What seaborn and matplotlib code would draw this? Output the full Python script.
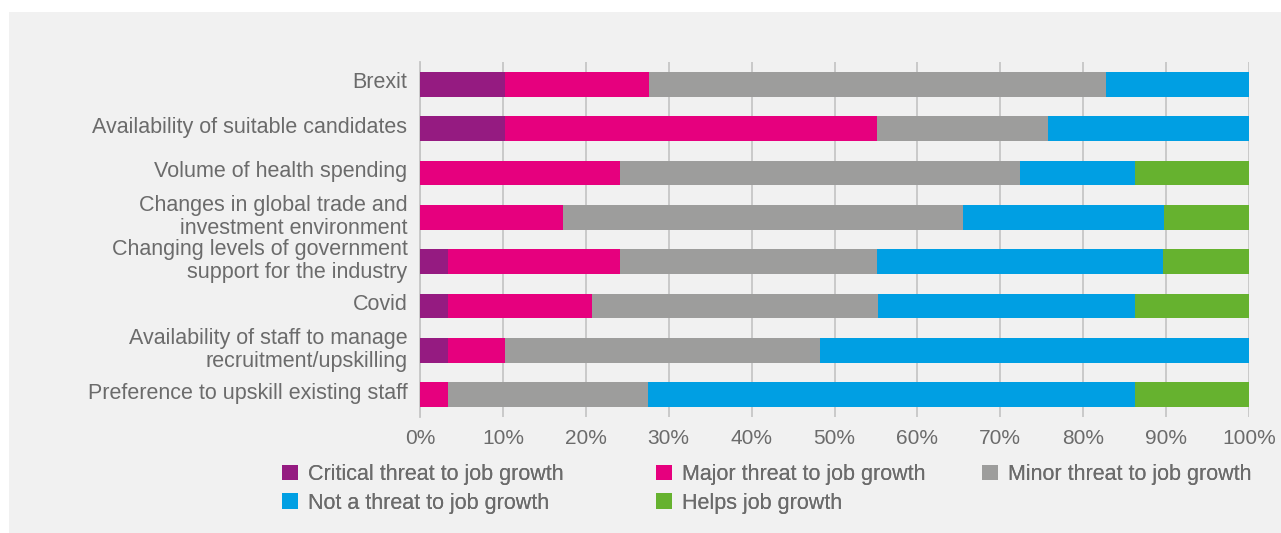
import matplotlib
matplotlib.use("Agg")
import matplotlib.pyplot as plt
import matplotlib.transforms as mtransforms
from matplotlib.patches import Patch, Rectangle
import numpy as np
import pandas as pd
import seaborn as sns

# Survey items (top to bottom)
items = [
    "Brexit",
    "Availability of suitable candidates",
    "Volume of health spending",
    "Changes in global trade and\ninvestment environment",
    "Changing levels of government\nsupport for the industry",
    "Covid",
    "Availability of staff to manage\nrecruitment/upskilling",
    "Preference to upskill existing staff",
]

# Share of respondents (%) per answer
critical = [10.3, 10.3, 0.0, 0.0, 3.4, 3.4, 3.4, 0.0]
major = [17.3, 44.8, 24.1, 17.2, 20.7, 17.3, 6.9, 3.4]
minor = [55.2, 20.7, 48.3, 48.3, 31.0, 34.5, 37.9, 24.1]
not_threat = [17.2, 24.2, 13.8, 24.2, 34.5, 31.0, 51.8, 58.7]
helps = [0.0, 0.0, 13.8, 10.3, 10.4, 13.8, 0.0, 13.8]

answers = [
    "Critical threat to job growth",
    "Major threat to job growth",
    "Minor threat to job growth",
    "Not a threat to job growth",
    "Helps job growth",
]
colors = ["#951B81", "#E6007E", "#9D9D9C", "#009FE3", "#66B22F"]
tick_values = [0, 10, 20, 30, 40, 50, 60, 70, 80, 90, 100]
tick_labels = [f"{v}%" for v in tick_values]

bg = "#F1F1F1"
text_col = "#6B6B6B"
grid_col = "#C6C6C6"

# Long table with cumulative right edges so each layer sits on the previous ones
shares = np.array([critical, major, minor, not_threat, helps])
cum = shares.cumsum(axis=0)
rows = []
for a_i, ans in enumerate(answers):
    for i_i, item in enumerate(items):
        rows.append({"item": item, "answer": ans, "share": shares[a_i, i_i], "edge": cum[a_i, i_i]})
df = pd.DataFrame(rows)

sns.set_theme(style="white")
plt.rcParams["font.family"] = ["Liberation Sans", "DejaVu Sans"]

W, H = 1281, 533
fig = plt.figure(figsize=(W / 100, H / 100), dpi=100)
fig.patch.set_facecolor("white")
# grey panel behind the whole chart
panel = Rectangle((9 / W, 0), 1 - 9 / W, 1 - 12 / H, transform=fig.transFigure,
                  facecolor=bg, edgecolor="none", zorder=-10)
fig.add_artist(panel)

ax = fig.add_axes([420 / W, 1 - 417 / H, (1249 - 420) / W, (417 - 62) / H])
ax.set_zorder(1)
ax.set_facecolor(bg)

# Draw widest layer first, narrower layers on top
sns.barplot(data=df, x="edge", y="item", hue="answer",
            hue_order=answers[::-1], palette=dict(zip(answers, colors)),
            order=items, dodge=False, width=0.56, orient="h",
            linewidth=0, saturation=1, legend=False, ax=ax, zorder=3)

ax.set_xlim(0, 100)
ax.set_ylim(7.5, -0.5)
ax.set_xticks(tick_values)
ax.set_xticklabels(tick_labels)
ax.set_xlabel("")
ax.set_ylabel("")
ax.xaxis.grid(True, color=grid_col, linewidth=1.3, zorder=0)
ax.set_axisbelow(True)
for s in ["top", "right", "bottom"]:
    ax.spines[s].set_visible(False)
ax.spines["left"].set_color(grid_col)
ax.spines["left"].set_linewidth(1.3)
ax.tick_params(axis="x", length=0, labelsize=15, labelcolor=text_col, pad=9)
ax.tick_params(axis="y", length=0, labelsize=15.5, labelcolor=text_col, pad=9)
lift = mtransforms.ScaledTranslation(0, 4 / 100, fig.dpi_scale_trans)
for lab in ax.get_yticklabels():
    lab.set_linespacing(1.12)
    lab.set_transform(lab.get_transform() + lift)

# Legend laid out as three columns
handles = [Patch(facecolor=c, edgecolor="none") for c in colors]
columns = [([0, 3], 282), ([1, 4], 656), ([2], 982)]
for idx, x0 in columns:
    leg = fig.legend([handles[i] for i in idx], [answers[i] for i in idx],
                     loc="upper left", bbox_to_anchor=(x0 / W, 1 - 464 / H),
                     frameon=False, fontsize=15.5, labelcolor=text_col,
                     handlelength=0.72, handleheight=0.72, handletextpad=0.5,
                     labelspacing=0.35, borderpad=0, borderaxespad=0)
    fig.add_artist(leg)

fig.savefig("out.png", dpi=100, facecolor=fig.get_facecolor())
